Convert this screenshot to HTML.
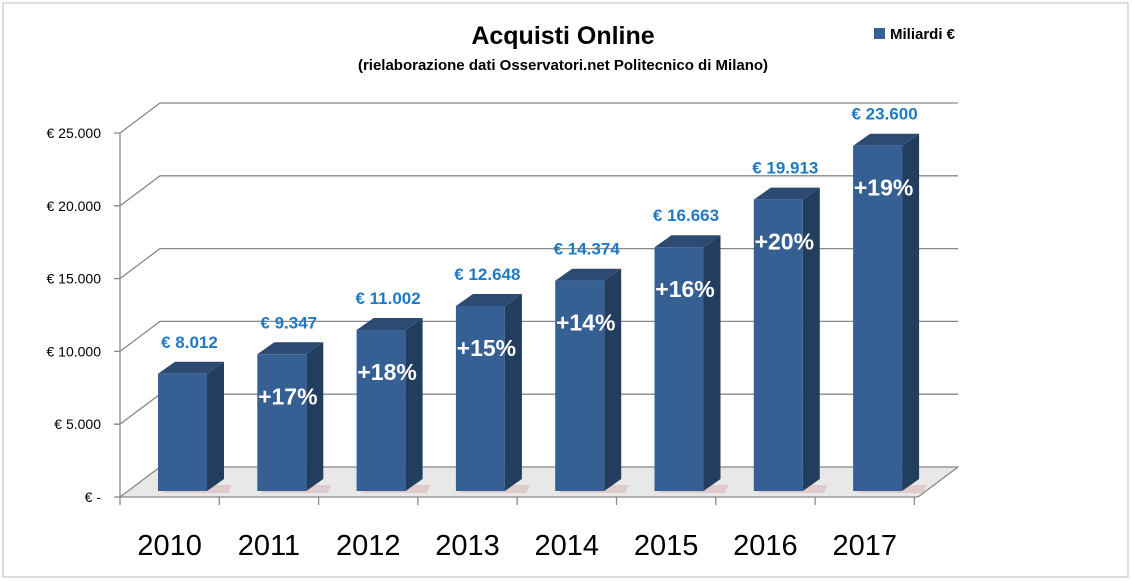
<!DOCTYPE html>
<html><head><meta charset="utf-8"><style>
body{margin:0;background:#fff;}
svg{display:block;font-family:"Liberation Sans",sans-serif;}
</style></head><body>
<svg id="c" width="1132" height="581">
<rect x="0" y="0" width="1132" height="581" fill="#fff"/>
<rect x="3" y="3" width="1125" height="574" fill="none" stroke="#bbb" stroke-width="1"/>
<text x="563" y="44" text-anchor="middle" font-size="25" font-weight="bold" fill="#000">Acquisti Online</text>
<text x="563" y="70" text-anchor="middle" font-size="15" font-weight="bold" fill="#000">(rielaborazione dati  Osservatori.net Politecnico di Milano)</text>
<rect x="874" y="28" width="11" height="11" fill="#365f94"/>
<text x="890" y="39" font-size="15" font-weight="bold" fill="#000">Miliardi €</text>
<g id="grid"></g>
<g id="bars"></g>
</svg>
<script>
const categories=["2010","2011","2012","2013","2014","2015","2016","2017"];
const values=[8012,9347,11002,12648,14374,16663,19913,23600];
const valueLabels=["€ 8.012","€ 9.347","€ 11.002","€ 12.648","€ 14.374","€ 16.663","€ 19.913","€ 23.600"];
const growthLabels=["","+17%","+18%","+15%","+14%","+16%","+20%","+19%"];
const yTicks=[0,5000,10000,15000,20000,25000];
const yTickLabels=["€ -","€ 5.000","€ 10.000","€ 15.000","€ 20.000","€ 25.000"];

const NS="http://www.w3.org/2000/svg";
const grid=document.getElementById("grid"),bars=document.getElementById("bars");
function mk(tag,attrs,parent,txt){const e=document.createElementNS(NS,tag);for(const k in attrs)e.setAttribute(k,attrs[k]);if(txt!==undefined)e.textContent=txt;parent.appendChild(e);return e;}
const yFront=v=>497-v*0.01456;
const yBar=v=>491-v*0.01463;
const xCat=i=>158+i*99.3;
// floor
let fl=mk("polygon",{points:"120,497 918,497 958,467 160,467",fill:"#e8e8e8",stroke:"#888"},grid);


yTicks.forEach((t,i)=>{
  const y=yFront(t);
  let l=mk("polyline",{points:`114,${y} 120,${y} 160,${y-30} 958,${y-30}`,fill:"none",stroke:"#888","stroke-width":1.3},grid);
  
  
  let tx=mk("text",{x:101,y:y+5,"text-anchor":"end","font-size":14,fill:"#000"},grid,yTickLabels[i]);
  
  
});
mk("line",{x1:120,y1:yFront(25000),x2:120,y2:497,stroke:"#888","stroke-width":1.3},grid);
mk("line",{x1:120,y1:497,x2:918,y2:497,stroke:"#888","stroke-width":1.3},grid);
mk("line",{x1:918,y1:497,x2:958,y2:467,stroke:"#888","stroke-width":1.3},grid);
for(let i=0;i<=8;i++){const x=120+i*99.3;mk("line",{x1:x,y1:497,x2:x,y2:505,stroke:"#888","stroke-width":1.3},grid);}
categories.forEach((c,i)=>{
  const x=xCat(i),w=49,dx=17,dy=-12,b=491,t=yBar(values[i]);
  const g=mk("g",{},bars);
  
  
  mk("polygon",{points:`${x+3},${b+2} ${x+w+dx+4},${b+2} ${x+w+dx+8},${b-6} ${x+dx},${b-6}`,fill:"#d8b8b8",opacity:0.6},g);
  mk("polygon",{points:`${x+w},${t} ${x+w+dx},${t+dy} ${x+w+dx},${b+dy} ${x+w},${b}`,fill:"#233d5e"},g);
  mk("polygon",{points:`${x},${t} ${x+dx},${t+dy} ${x+w+dx},${t+dy} ${x+w},${t}`,fill:"#2d4a73"},g);
  mk("rect",{x:x,y:t,width:w,height:b-t,fill:"#365f94"},g);
  let vl=mk("text",{x:x+w/2+7,y:t-26,"text-anchor":"middle","font-size":17,"font-weight":"bold",fill:"#1f7ac6"},bars,valueLabels[i]);
  
  
  if(growthLabels[i]){
    let gl=mk("text",{x:x+w/2+6,y:t+50,"text-anchor":"middle","font-size":23,"font-weight":"bold",fill:"#fff"},bars,growthLabels[i]);
    
    
  }
  let cl=mk("text",{x:120+i*99.3+49.6,y:555,"text-anchor":"middle","font-size":29,fill:"#000"},bars,c);
  
  
});
</script>
</body></html>
